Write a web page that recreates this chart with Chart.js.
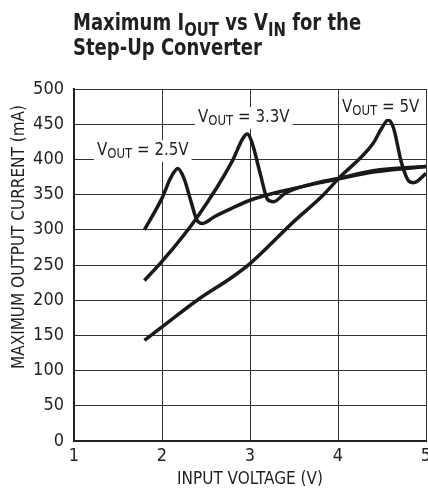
<!DOCTYPE html>
<html>
<head>
<meta charset="utf-8">
<script src="https://cdn.jsdelivr.net/npm/chart.js@4"></script>
<style>
  body { margin: 0; background: #fff; }
  #wrap { width: 428px; height: 496px; position: relative; }
</style>
</head>
<body>
<div id="wrap"><canvas id="chart"></canvas></div>
<script>
// input voltage (V) and max output current (mA)
const vin25 = [1.8, 2.0, 2.1, 2.18, 2.25, 2.33, 2.4, 2.46, 2.6, 2.8, 3.0, 3.4, 3.8, 4.0, 4.4, 5.0];
const iout25 = [300, 345, 374, 387, 373, 340, 313, 309, 319, 331, 342, 356, 367, 372, 382, 390];

const vin33 = [1.8, 2.0, 2.4, 2.8, 2.92, 2.97, 3.02, 3.12, 3.2, 3.27, 3.4, 3.8, 4.0, 4.4, 5.0];
const iout33 = [228, 255, 318, 398, 430, 436, 425, 378, 343, 340, 352, 368, 373, 384, 390];

const vin5 = [1.8, 2.0, 2.4, 2.8, 3.0, 3.5, 3.83, 4.0, 4.4, 4.5, 4.57, 4.63, 4.72, 4.8, 4.86, 5.0];
const iout5 = [143, 162, 200, 233, 252, 312, 349, 372, 423, 445, 456, 445, 396, 370, 367, 380];

const xTicks = [1, 2, 3, 4, 5];
const yTicks = [0, 50, 100, 150, 200, 250, 300, 350, 400, 450, 500];

const NARROW = '"Liberation Sans Narrow", "DejaVu Sans Condensed", "Roboto", sans-serif';

function pts(xs, ys) {
    return xs.map((x, i) => ({ x: x, y: ys[i] }));
}

// text runs with subscripts: [text, isSub]; sx squeezes the text sideways
function drawRuns(ctx, x, y, runs, size, subSize, subDrop, weight, sx) {
    ctx.save();
    ctx.translate(x, y);
    ctx.scale(sx, 1);
    ctx.textBaseline = 'alphabetic';
    ctx.textAlign = 'left';
    let cx = 0;
    runs.forEach(r => {
        const sub = r[1];
        ctx.font = (weight || '') + ' ' + (sub ? subSize : size) + 'px ' + NARROW;
        ctx.fillText(r[0], cx, sub ? subDrop : 0);
        cx += ctx.measureText(r[0]).width;
    });
    ctx.restore();
    return cx * sx;
}

function measureRuns(ctx, runs, size, subSize, weight, sx) {
    let w = 0;
    runs.forEach(r => {
        ctx.font = (weight || '') + ' ' + (r[1] ? subSize : size) + 'px ' + NARROW;
        w += ctx.measureText(r[0]).width;
    });
    return w * sx;
}

const labels = [
    { runs: [['V', 0], ['OUT', 1], [' = 2.5V', 0]], x: 97, y: 155 },
    { runs: [['V', 0], ['OUT', 1], [' = 3.3V', 0]], x: 198, y: 122 },
    { runs: [['V', 0], ['OUT', 1], [' = 5V', 0]], x: 342, y: 112 }
];

const textPlugin = {
    id: 'texts',
    afterDraw(chart) {
        const ctx = chart.ctx;
        ctx.save();
        ctx.fillStyle = '#231f20';

        // title
        drawRuns(ctx, 73, 30, [['Maximum I', 0], ['OUT', 1], [' vs V', 0], ['IN', 1], [' for the', 0]], 23, 19, 6, 'bold', 0.87);
        drawRuns(ctx, 73, 55, [['Step-Up Converter', 0]], 23, 19, 6, 'bold', 0.87);

        // y axis title
        ctx.save();
        ctx.translate(24, 237);
        ctx.rotate(-Math.PI / 2);
        ctx.font = '17px ' + NARROW;
        ctx.textAlign = 'center';
        ctx.textBaseline = 'alphabetic';
        ctx.fillText('MAXIMUM OUTPUT CURRENT (mA)', 0, 0);
        ctx.restore();
        ctx.restore();
    }
};

// curve labels sit on white patches that break the grid
const curveLabelPlugin = {
    id: 'curveLabels',
    afterDatasetsDraw(chart) {
        const ctx = chart.ctx;
        ctx.save();
        labels.forEach(l => {
            const w = measureRuns(ctx, l.runs, 18, 14, '', 0.93);
            ctx.fillStyle = '#fff';
            ctx.fillRect(l.x - 3, l.y - 15, w + 6, 22);
            ctx.fillStyle = '#231f20';
            drawRuns(ctx, l.x, l.y, l.runs, 18, 14, 3, '', 0.93);
        });
        ctx.restore();
    }
};

const lineStyle = {
    borderColor: '#1a1a1a',
    borderWidth: 3.5,
    pointRadius: 0,
    fill: false,
    cubicInterpolationMode: 'monotone'
};

new Chart(document.getElementById('chart'), {
    type: 'line',
    data: {
        datasets: [
            Object.assign({ label: 'VOUT = 2.5V', data: pts(vin25, iout25) }, lineStyle),
            Object.assign({ label: 'VOUT = 3.3V', data: pts(vin33, iout33) }, lineStyle),
            Object.assign({ label: 'VOUT = 5V', data: pts(vin5, iout5) }, lineStyle)
        ]
    },
    options: {
        responsive: true,
        maintainAspectRatio: false,
        animation: false,
        devicePixelRatio: 1,
        layout: { padding: { top: 89, right: 2, left: 0, bottom: 0 } },
        plugins: {
            legend: { display: false },
            tooltip: { enabled: false }
        },
        scales: {
            x: {
                type: 'linear',
                min: 1,
                max: 5,
                afterBuildTicks: s => { s.ticks = xTicks.map(v => ({ value: v })); },
                afterFit: s => { s.height = 55; s.paddingRight = 0; s.paddingLeft = 0; },
                ticks: {
                    color: '#231f20',
                    padding: 5,
                    font: { family: NARROW, size: 18 }
                },
                grid: { color: '#333', lineWidth: 1, drawTicks: false },
                border: { color: '#231f20', width: 2 },
                title: {
                    display: true,
                    text: 'INPUT VOLTAGE (V)',
                    color: '#231f20',
                    font: { family: NARROW, size: 17 },
                    padding: { top: 0, bottom: 6 }
                }
            },
            y: {
                min: 0,
                max: 500,
                afterBuildTicks: s => { s.ticks = yTicks.map(v => ({ value: v })); },
                afterFit: s => { s.width = 74; },
                ticks: {
                    color: '#231f20',
                    padding: 10,
                    font: { family: NARROW, size: 18 }
                },
                grid: { color: '#333', lineWidth: 1, drawTicks: false },
                border: { color: '#231f20', width: 2 }
            }
        }
    },
    plugins: [curveLabelPlugin, textPlugin]
});
</script>
</body>
</html>
